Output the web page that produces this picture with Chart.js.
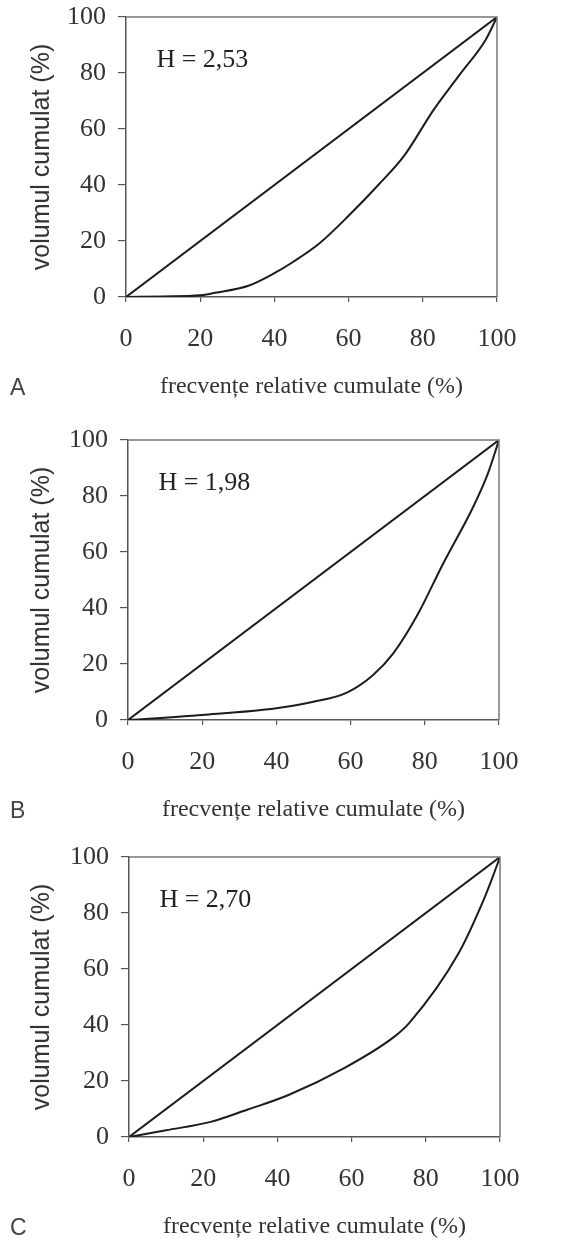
<!DOCTYPE html>
<html>
<head>
<meta charset="utf-8">
<script src="https://cdn.jsdelivr.net/npm/chart.js@4.4.1/dist/chart.umd.min.js"></script>
<style>
  body { margin: 0; background: #fff; width: 569px; height: 1241px; overflow: hidden; position: relative; }
  .panel { position: absolute; left: 0; width: 569px; height: 401px; }
</style>
</head>
<body>
<div class="panel" style="top:0px"><canvas id="chartA" width="569" height="401"></canvas></div>
<div class="panel" style="top:423px"><canvas id="chartB" width="569" height="401"></canvas></div>
<div class="panel" style="top:840px"><canvas id="chartC" width="569" height="401"></canvas></div>
<script>
// linia de egalitate perfecta
const diagX = [0, 100];
const diagY = [0, 100];

// curbele Lorenz (frecvente relative cumulate / volum cumulat, %)
const fracA = [0, 10, 20, 24, 33, 40, 45, 52, 60, 68, 75, 83, 90, 97, 100];
const volA  = [0, 0.2, 0.6, 1.5, 4, 8.5, 12.5, 19, 29, 40, 50.5, 67, 79.5, 92, 100];

const fracB = [0, 20, 40, 50, 59, 66, 71.5, 78, 85, 93, 97, 100];
const volB  = [0, 1.8, 4.2, 6.5, 9.8, 16, 23.8, 37.5, 56, 76, 88, 100];

const fracC = [0, 10, 22, 32, 43, 58, 71, 75.5, 89, 95.5, 98, 100];
const volC  = [0, 2.4, 5.4, 9.8, 15, 24.6, 35.3, 40.7, 66, 84.4, 92.8, 100];

const tickValues = [0, 20, 40, 60, 80, 100];

const ink = '#1c1c1c';
const textColor = '#333';
const axisColor = '#555';

const pts = (xs, ys) => xs.map((x, i) => ({ x: x, y: ys[i] }));

// cadru sus/dreapta + eticheta H si litera panoului
const framePlugin = {
  id: 'frame',
  afterDraw(chart, args, opts) {
    const { ctx, chartArea: a, scales } = chart;
    ctx.save();
    ctx.strokeStyle = '#777';
    ctx.lineWidth = 1.5;
    ctx.beginPath();
    ctx.moveTo(a.left, a.top);
    ctx.lineTo(a.right, a.top);
    ctx.lineTo(a.right, a.bottom);
    ctx.stroke();

    ctx.fillStyle = '#222';
    ctx.font = '26px "Liberation Serif"';
    ctx.textAlign = 'left';
    ctx.textBaseline = 'middle';
    ctx.fillText(opts.hText, scales.x.getPixelForValue(8.2), scales.y.getPixelForValue(84.5));

    ctx.fillStyle = '#444';
    ctx.font = '23px "Liberation Sans"';
    ctx.fillText(opts.letter, 10, 389);
    ctx.restore();
  }
};

function drawPanel(id, letter, hText, frac, vol, left, right) {
  const ctx = document.getElementById(id).getContext('2d');
  return new Chart(ctx, {
    type: 'line',
    data: {
      datasets: [
        { data: pts(diagX, diagY), borderColor: ink, borderWidth: 2, pointRadius: 0 },
        { data: pts(frac, vol), borderColor: ink, borderWidth: 2, pointRadius: 0, cubicInterpolationMode: 'monotone' }
      ]
    },
    options: {
      responsive: false,
      animation: false,
      layout: { padding: { top: 17, right: 569 - right, left: 0, bottom: 0 } },
      plugins: {
        legend: { display: false },
        tooltip: { enabled: false },
        frame: { hText: hText, letter: letter }
      },
      scales: {
        x: {
          type: 'linear', min: 0, max: 100,
          afterFit: s => { s.height = 104; s.paddingLeft = 0; s.paddingRight = 0; },
          afterBuildTicks: s => { s.ticks = tickValues.map(v => ({ value: v })); },
          ticks: { padding: 22, color: textColor, font: { family: 'Liberation Serif', size: 26 } },
          grid: { drawOnChartArea: false, tickLength: 5, color: axisColor, lineWidth: 1.2 },
          border: { color: axisColor, width: 1.5 },
          title: { display: true, text: 'frecvențe relative cumulate (%)', color: textColor,
                   font: { family: 'Liberation Serif', size: 24 }, padding: 0 }
        },
        y: {
          type: 'linear', min: 0, max: 100,
          afterFit: s => { s.width = left; s.paddingTop = 0; s.paddingBottom = 0; },
          afterBuildTicks: s => { s.ticks = tickValues.map(v => ({ value: v })); },
          ticks: { padding: 12, color: textColor, font: { family: 'Liberation Serif', size: 26 } },
          grid: { drawOnChartArea: false, tickLength: 8, color: axisColor, lineWidth: 1.2 },
          border: { color: axisColor, width: 1.5 },
          title: { display: true, text: 'volumul cumulat (%)', color: textColor,
                   font: { family: 'Liberation Sans', size: 25 }, padding: { top: 27, bottom: 0 } }
        }
      }
    },
    plugins: [framePlugin]
  });
}

drawPanel('chartA', 'A', 'H = 2,53', fracA, volA, 126, 497);
drawPanel('chartB', 'B', 'H = 1,98', fracB, volB, 128, 499);
drawPanel('chartC', 'C', 'H = 2,70', fracC, volC, 129, 500);
</script>
</body>
</html>
